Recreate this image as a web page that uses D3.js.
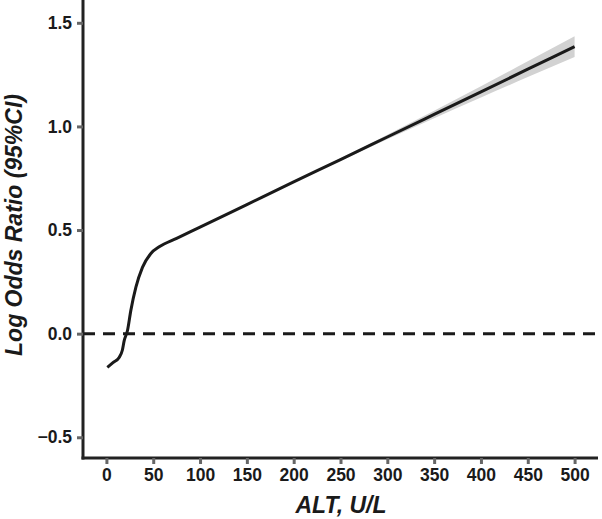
<!DOCTYPE html>
<html>
<head>
<meta charset="utf-8">
<script src="https://cdn.jsdelivr.net/npm/d3@7"></script>
<style>
  body { margin: 0; background: #fff; }
  .tick text { font-family: "Liberation Sans", Arial, sans-serif; font-weight: bold; font-size: 17.5px; fill: #1a1a1a; }
  .axisTitle { font-family: "Liberation Sans", Arial, sans-serif; font-weight: bold; font-style: italic; fill: #1a1a1a; }
</style>
</head>
<body>
<div id="chart"></div>
<script>
// spline estimate of log odds ratio by ALT
var altValues = [1, 7, 13.6, 17, 19, 22.5, 26, 31.5, 38.5, 47.5, 56.4, 75, 100, 150, 200, 250, 300, 350, 400, 450, 500];
var logOR     = [-0.163, -0.14, -0.115, -0.08, -0.034, 0.015, 0.11, 0.224, 0.32, 0.387, 0.419, 0.46, 0.514, 0.623, 0.732, 0.84, 0.949, 1.058, 1.167, 1.276, 1.385];
var ciHalf    = [0.004, 0.004, 0.004, 0.004, 0.004, 0.004, 0.004, 0.004, 0.004, 0.004, 0.004, 0.003, 0.002, 0.002, 0.003, 0.006, 0.011, 0.018, 0.027, 0.038, 0.05];

var xTicks = [0, 50, 100, 150, 200, 250, 300, 350, 400, 450, 500];
var yTicks = [-0.5, 0.0, 0.5, 1.0, 1.5];

var width = 602, height = 519;
var margin = {top: 0, right: 4, bottom: 61, left: 83};

var svg = d3.select("#chart").append("svg")
    .attr("width", width)
    .attr("height", height);

var x = d3.scaleLinear().domain([-25, 525]).range([margin.left, width - margin.right]);
var y = d3.scaleLinear().domain([-0.6, 1.61]).range([height - margin.bottom, margin.top]);

var pts = altValues.map(function(a, i){
  return {x: a, y: logOR[i], lo: logOR[i] - ciHalf[i], hi: logOR[i] + ciHalf[i]};
});

// confidence band
var band = d3.area()
  .x(function(d){ return x(d.x); })
  .y0(function(d){ return y(d.lo); })
  .y1(function(d){ return y(d.hi); })
  .curve(d3.curveMonotoneX);
svg.append("path").datum(pts)
  .attr("d", band)
  .attr("fill", "#d2d2d2");

// reference line at zero
svg.append("line")
  .attr("x1", x(-25)).attr("x2", x(525))
  .attr("y1", y(0)).attr("y2", y(0))
  .attr("stroke", "#1a1a1a")
  .attr("stroke-width", 3)
  .attr("stroke-dasharray", "12,8");

var line = d3.line()
  .x(function(d){ return x(d.x); })
  .y(function(d){ return y(d.y); })
  .curve(d3.curveMonotoneX);
svg.append("path").datum(pts)
  .attr("d", line)
  .attr("fill", "none")
  .attr("stroke", "#1a1a1a")
  .attr("stroke-width", 3);

// axes
var xAxis = d3.axisBottom(x).tickValues(xTicks).tickSize(6).tickPadding(5).tickFormat(d3.format("d"));
var yAxis = d3.axisLeft(y).tickValues(yTicks).tickSize(6).tickPadding(5).tickFormat(function(d){
  return d3.format(".1f")(d).replace("-", "\u2212");
});

var gx = svg.append("g")
  .attr("transform", "translate(0," + (height - margin.bottom) + ")")
  .call(xAxis);
var gy = svg.append("g")
  .attr("transform", "translate(" + margin.left + ",0)")
  .call(yAxis);

[gx, gy].forEach(function(g){
  g.select(".domain").attr("stroke", "#222").attr("stroke-width", 3);
  g.selectAll(".tick line").attr("stroke", "#666").attr("stroke-width", 3);
});
gx.select(".domain").attr("d", "M" + (margin.left - 1.5) + ",0H" + (width - margin.right));
gy.select(".domain").attr("d", "M0,0V" + (height - margin.bottom + 1.5));

svg.append("text")
  .attr("class", "axisTitle")
  .attr("x", 341)
  .attr("y", 513)
  .attr("text-anchor", "middle")
  .style("font-size", "23px")
  .text("ALT, U/L");

svg.append("text")
  .attr("class", "axisTitle")
  .attr("transform", "translate(22,225) rotate(-90)")
  .attr("text-anchor", "middle")
  .style("font-size", "23px")
  .text("Log Odds Ratio (95%CI)");
</script>
</body>
</html>
